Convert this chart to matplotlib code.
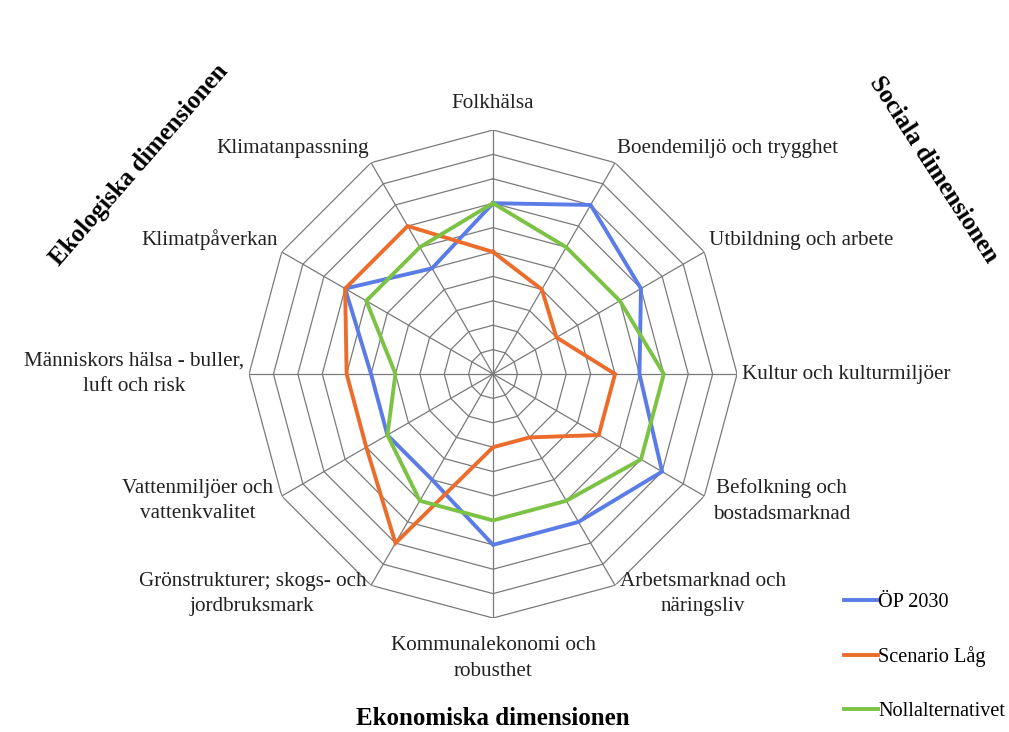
import numpy as np
import matplotlib
matplotlib.use("Agg")
import matplotlib.pyplot as plt

categories = [
    "Folkhälsa",
    "Boendemiljö och trygghet",
    "Utbildning och arbete",
    "Kultur och kulturmiljöer",
    "Befolkning och\nbostadsmarknad",
    "Arbetsmarknad och\nnäringsliv",
    "Kommunalekonomi och\nrobusthet",
    "Grönstrukturer; skogs- och\njordbruksmark",
    "Vattenmiljöer och\nvattenkvalitet",
    "Människors hälsa - buller,\nluft och risk",
    "Klimatpåverkan",
    "Klimatanpassning",
]
op2030 = [7, 8, 7, 6, 8, 7, 7, 5, 5, 5, 7, 5]
scenario_lag = [5, 4, 3, 5, 5, 3, 3, 8, 6, 6, 7, 7]
nollalt = [7, 6, 6, 7, 7, 6, 6, 6, 5, 4, 6, 6]
series_names = ["ÖP 2030", "Scenario Låg", "Nollalternativet"]
colors = ["#5b7ce6", "#ec6c2c", "#7cc244"]
rmax = 10

plt.rcParams["font.family"] = ["Liberation Serif", "DejaVu Serif"]

fig = plt.figure(figsize=(10.09, 7.32), dpi=100)
ax = fig.add_axes([0.2468, 0.1557, 0.4837, 0.6667], projection="polar")
ax.set_theta_zero_location("N")
ax.set_theta_direction(-1)

n = len(categories)
theta = np.linspace(0, 2 * np.pi, n, endpoint=False)
theta_c = np.append(theta, theta[0])

# polygon grid
for r in range(1, rmax + 1):
    ax.plot(theta_c, [r] * (n + 1), color="#7a7a7a", lw=0.9, zorder=1)
for t in theta:
    ax.plot([t, t], [0, rmax], color="#7a7a7a", lw=0.9, zorder=1)

for vals, name, c in zip([op2030, scenario_lag, nollalt], series_names, colors):
    v = np.append(vals, vals[0])
    ax.plot(theta_c, v, color=c, lw=2.8, label=name, zorder=3, solid_joinstyle="miter")

ax.set_ylim(0, rmax)
ax.grid(False)
ax.spines["polar"].set_visible(False)
ax.set_xticks([])
ax.set_yticks([])
ax.patch.set_alpha(0)

# category labels
for t, lab in zip(theta, categories):
    deg = np.degrees(t) % 360
    if deg < 1 or abs(deg - 180) < 1:
        ha = "center"
    elif deg < 180:
        ha = "left"
    else:
        ha = "right"
    if deg < 1:
        va = "bottom"
    elif abs(deg - 180) < 1:
        va = "top"
    elif abs(deg - 90) < 1 or abs(deg - 270) < 1:
        va = "center"
    elif deg < 90 or deg > 270:
        va = "bottom"
    else:
        va = "center"
    r = 10.2
    if abs(deg - 180) < 1:
        r = 10.75
    if deg < 1:
        r = 10.7
    if 100 < deg < 170 or 190 < deg < 260:
        r = 10.4
    ax.text(t, r, lab, ha=ha, va=va, multialignment="center",
            fontsize=15.2, color="#222222", linespacing=1.45)

fig.text(0.138, 0.775, "Ekologiska dimensionen", rotation=49, fontsize=18,
         fontweight="bold", ha="center", va="center")
fig.text(0.925, 0.768, "Sociala dimensionen", rotation=-57, fontsize=18,
         fontweight="bold", ha="center", va="center")
fig.text(0.488, 0.018, "Ekonomiska dimensionen", fontsize=18,
         fontweight="bold", ha="center", va="center")

fig.legend(loc="lower left", bbox_to_anchor=(0.818, -0.01), frameon=False,
           handlelength=1.7, handletextpad=0.0, labelspacing=1.7,
           fontsize=14.6)

fig.savefig("out.png", dpi=100, facecolor="white")
